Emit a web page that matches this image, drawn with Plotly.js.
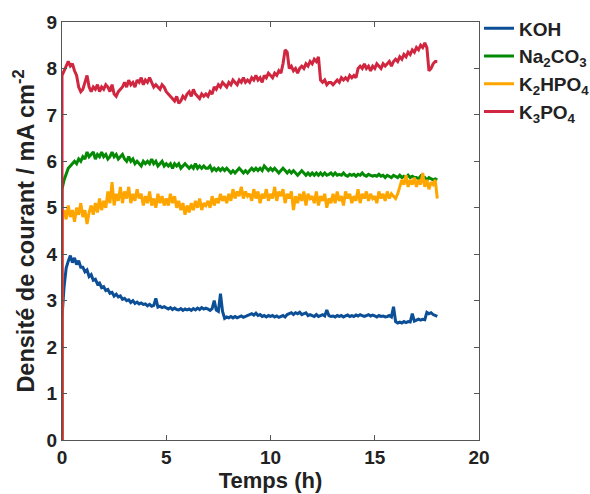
<!DOCTYPE html>
<html>
<head>
<meta charset="utf-8">
<script src="https://cdn.plot.ly/plotly-3.0.1.min.js"></script>
<style>html,body{margin:0;padding:0;background:#fff;}#chart{width:590px;height:494px;}</style>
</head>
<body>
<div id="chart"></div>
<script>
// Time grid (h)
const hours = [0,
  0.0,0.1,0.2,0.3,0.4,0.5,0.6,0.7,0.8,0.9,
  1.0,1.1,1.2,1.3,1.4,1.5,1.6,1.7,1.8,1.9,
  2.0,2.1,2.2,2.3,2.4,2.5,2.6,2.7,2.8,2.9,
  3.0,3.1,3.2,3.3,3.4,3.5,3.6,3.7,3.8,3.9,
  4.0,4.1,4.2,4.3,4.4,4.5,4.6,4.7,4.8,4.9,
  5.0,5.1,5.2,5.3,5.4,5.5,5.6,5.7,5.8,5.9,
  6.0,6.1,6.2,6.3,6.4,6.5,6.6,6.7,6.8,6.9,
  7.0,7.1,7.2,7.3,7.4,7.5,7.6,7.7,7.8,7.9,
  8.0,8.1,8.2,8.3,8.4,8.5,8.6,8.7,8.8,8.9,
  9.0,9.1,9.2,9.3,9.4,9.5,9.6,9.7,9.8,9.9,
  10.0,10.1,10.2,10.3,10.4,10.5,10.6,10.7,10.8,10.9,
  11.0,11.1,11.2,11.3,11.4,11.5,11.6,11.7,11.8,11.9,
  12.0,12.1,12.2,12.3,12.4,12.5,12.6,12.7,12.8,12.9,
  13.0,13.1,13.2,13.3,13.4,13.5,13.6,13.7,13.8,13.9,
  14.0,14.1,14.2,14.3,14.4,14.5,14.6,14.7,14.8,14.9,
  15.0,15.1,15.2,15.3,15.4,15.5,15.6,15.7,15.8,15.9,
  16.0,16.1,16.2,16.3,16.4,16.5,16.6,16.7,16.8,16.9,
  17.0,17.1,17.2,17.3,17.4,17.5,17.6,17.7,17.8,17.9,
  18.0];

const seriesNames = ["KOH", "Na<sub>2</sub>CO<sub>3</sub>", "K<sub>2</sub>HPO<sub>4</sub>", "K<sub>3</sub>PO<sub>4</sub>"];

const koh = [0,
  2.65,3.3,3.7,3.85,3.97,3.82,3.92,3.78,3.86,3.72,
  3.72,3.62,3.66,3.52,3.56,3.44,3.46,3.36,3.38,3.28,
  3.3,3.22,3.24,3.16,3.18,3.1,3.14,3.08,3.1,3.03,
  3.05,3.0,3.02,2.96,3.0,2.94,2.97,2.93,2.95,2.92,
  2.93,2.89,2.92,2.88,2.9,3.05,2.86,2.88,2.85,2.87,
  2.85,2.82,2.85,2.81,2.84,2.81,2.8,2.83,2.79,2.82,
  2.8,2.82,2.79,2.83,2.8,2.84,2.81,2.85,2.82,2.84,
  2.82,2.79,2.83,3.0,2.8,2.77,3.15,2.77,2.62,2.65,
  2.63,2.66,2.63,2.66,2.63,2.65,2.67,2.64,2.66,2.68,
  2.7,2.72,2.69,2.73,2.68,2.7,2.66,2.68,2.65,2.68,
  2.66,2.68,2.65,2.67,2.64,2.66,2.68,2.65,2.7,2.72,
  2.74,2.7,2.74,2.72,2.75,2.7,2.72,2.74,2.68,2.7,
  2.68,2.66,2.7,2.66,2.68,2.7,2.67,2.8,2.68,2.66,
  2.67,2.65,2.68,2.66,2.68,2.65,2.67,2.69,2.66,2.68,
  2.66,2.69,2.67,2.7,2.68,2.66,2.68,2.7,2.67,2.69,
  2.67,2.65,2.68,2.66,2.67,2.65,2.66,2.68,2.65,2.87,
  2.55,2.52,2.54,2.52,2.55,2.53,2.55,2.54,2.72,2.56,
  2.58,2.6,2.58,2.6,2.59,2.75,2.72,2.74,2.7,2.68,
  2.66];

const na2co3 = [0,
  5.4,5.6,5.75,5.85,5.9,5.95,6.0,5.95,6.05,6.0,
  6.1,6.05,6.2,6.1,6.15,6.2,6.05,6.15,6.1,6.2,
  6.1,6.15,6.05,6.1,6.2,6.1,6.15,6.05,6.1,6.15,
  6.05,6.0,6.1,6.0,6.05,5.95,6.0,5.95,5.9,6.0,
  5.95,6.0,5.95,6.05,5.95,6.0,5.9,5.95,6.0,5.9,
  5.95,5.9,5.95,5.85,5.95,5.9,5.95,5.85,5.9,5.95,
  5.9,5.85,5.9,5.85,5.95,5.85,5.9,5.85,5.9,5.85,
  5.85,5.9,5.8,5.85,5.8,5.85,5.8,5.85,5.8,5.85,
  5.8,5.75,5.8,5.75,5.8,5.85,5.8,5.75,5.8,5.75,
  5.8,5.85,5.8,5.85,5.8,5.85,5.8,5.9,5.85,5.8,
  5.85,5.8,5.85,5.8,5.75,5.8,5.85,5.8,5.75,5.8,
  5.75,5.8,5.75,5.7,5.75,5.8,5.75,5.7,5.75,5.7,
  5.75,5.7,5.75,5.7,5.75,5.7,5.75,5.7,5.72,5.75,
  5.7,5.75,5.7,5.72,5.7,5.75,5.7,5.68,5.72,5.7,
  5.72,5.68,5.72,5.7,5.75,5.7,5.68,5.72,5.7,5.68,
  5.7,5.68,5.72,5.68,5.7,5.65,5.7,5.68,5.65,5.7,
  5.68,5.65,5.7,5.65,5.68,5.65,5.7,5.65,5.68,5.65,
  5.65,5.62,5.68,5.62,5.65,5.6,5.65,5.62,5.6,5.62,
  5.6];

const k2hpo4 = [0,
  4.8,4.95,4.75,5.05,4.8,4.95,4.7,5.0,4.85,5.1,
  4.8,4.95,4.65,4.9,5.05,4.85,5.1,4.9,5.2,4.95,
  5.15,5.0,5.35,5.1,5.55,5.05,5.3,5.15,5.45,5.1,
  5.35,5.2,5.45,5.1,5.3,5.15,5.4,5.2,5.3,5.05,
  5.25,5.1,5.35,5.05,5.2,5.0,5.3,5.1,5.25,5.05,
  5.2,5.05,5.3,5.1,5.25,5.0,5.15,4.95,5.1,4.85,
  5.05,4.9,5.1,4.95,5.15,5.0,5.2,4.95,5.1,5.05,
  5.15,5.0,5.25,5.05,5.2,5.1,5.3,5.15,5.25,5.1,
  5.3,5.15,5.4,5.2,5.35,5.25,5.45,5.2,5.35,5.25,
  5.3,5.15,5.4,5.2,5.35,5.1,5.3,5.2,5.4,5.15,
  5.3,5.2,5.45,5.15,5.35,5.25,5.4,5.1,5.3,5.2,
  5.35,4.95,5.25,5.1,5.3,5.15,5.35,5.05,5.3,5.2,
  5.25,5.1,5.35,5.05,5.25,5.15,5.3,5.0,5.2,5.1,
  5.3,5.1,5.35,5.15,5.25,5.05,5.35,5.2,5.3,5.1,
  5.25,5.15,5.4,5.1,5.3,5.2,5.35,5.15,5.3,5.2,
  5.25,5.1,5.35,5.2,5.3,5.15,5.35,5.2,5.3,5.25,
  5.2,5.3,5.45,5.6,5.5,5.7,5.45,5.6,5.5,5.65,
  5.45,5.6,5.5,5.75,5.45,5.6,5.4,5.55,5.5,5.6,
  5.2];

const k3po4 = [0,
  7.85,7.95,8.05,8.15,8.05,8.1,7.95,7.85,7.6,7.5,
  7.55,7.7,7.85,7.6,7.5,7.6,7.55,7.65,7.5,7.6,
  7.55,7.65,7.6,7.5,7.65,7.45,7.4,7.5,7.55,7.6,
  7.7,7.6,7.75,7.65,7.7,7.6,7.75,7.7,7.8,7.65,
  7.75,7.7,7.8,7.7,7.6,7.65,7.6,7.55,7.65,7.6,
  7.5,7.45,7.4,7.35,7.3,7.4,7.25,7.3,7.4,7.35,
  7.45,7.5,7.4,7.55,7.45,7.4,7.35,7.45,7.4,7.45,
  7.4,7.5,7.45,7.6,7.55,7.65,7.6,7.7,7.65,7.6,
  7.7,7.65,7.75,7.7,7.65,7.75,7.7,7.8,7.7,7.75,
  7.7,7.8,7.75,7.85,7.75,7.8,7.7,7.85,7.8,7.9,
  7.85,7.8,7.9,7.85,7.95,7.9,8.1,8.4,8.35,8.0,
  8.05,7.95,8.0,7.9,8.0,8.05,8.0,8.1,8.05,8.15,
  8.1,8.2,8.15,8.25,7.75,7.7,7.75,7.65,7.7,7.7,
  7.65,7.7,7.75,7.7,7.8,7.75,7.8,7.75,7.85,7.8,
  7.85,7.8,8.0,8.05,8.0,8.1,8.0,8.05,7.95,8.05,
  8.0,8.1,8.05,8.0,8.1,8.05,8.1,8.15,8.05,8.15,
  8.2,8.15,8.25,8.2,8.3,8.25,8.35,8.3,8.4,8.35,
  8.45,8.4,8.5,8.45,8.55,8.45,7.95,8.0,8.1,8.15,
  8.15];

const seriesValues = [koh, na2co3, k2hpo4, k3po4];
const seriesColors = ["#0c4f97", "#058a05", "#ffa500", "#d0263f"];

const xTicks = [0, 5, 10, 15, 20];
const yTicks = [0, 1, 2, 3, 4, 5, 6, 7, 8, 9];

const traces = seriesValues.map((vals, i) => ({
  type: "scatter",
  mode: "lines",
  x: hours,
  y: vals,
  name: seriesNames[i],
  line: {color: seriesColors[i], width: 3}
}));

const FONT = "Liberation Sans, Arial, sans-serif";
const axisCommon = {
  showline: true, mirror: "ticks", linecolor: "#555", linewidth: 1,
  ticks: "inside", ticklen: 5, tickcolor: "#555", showgrid: false, zeroline: false,
  tickfont: {family: FONT, size: 19, color: "#222", weight: "bold"}
};

const layout = {
  width: 590, height: 494,
  margin: {l: 62, r: 111, t: 22, b: 54, autoexpand: false},
  paper_bgcolor: "#fff", plot_bgcolor: "#fff",
  showlegend: true,
  legend: {
    x: 1.0, y: 1.03, xanchor: "left", yanchor: "top",
    bgcolor: "rgba(0,0,0,0)",
    font: {family: FONT, size: 19, color: "#222", weight: "bold"}
  },
  xaxis: Object.assign({}, axisCommon, {
    range: [0, 20], tickvals: xTicks, ticktext: xTicks.map(String),
    title: {text: "Temps (h)", standoff: 2, font: {family: FONT, size: 22, color: "#222", weight: "bold"}}
  }),
  yaxis: Object.assign({}, axisCommon, {
    range: [0, 9], tickvals: yTicks, ticktext: yTicks.map(String),
    title: {text: "Densité de courant / mA cm<sup>-2</sup>", standoff: 5, font: {family: FONT, size: 23.5, color: "#222", weight: "bold"}}
  })
};

Plotly.newPlot("chart", traces, layout, {displayModeBar: false, staticPlot: true});
</script>
</body>
</html>
